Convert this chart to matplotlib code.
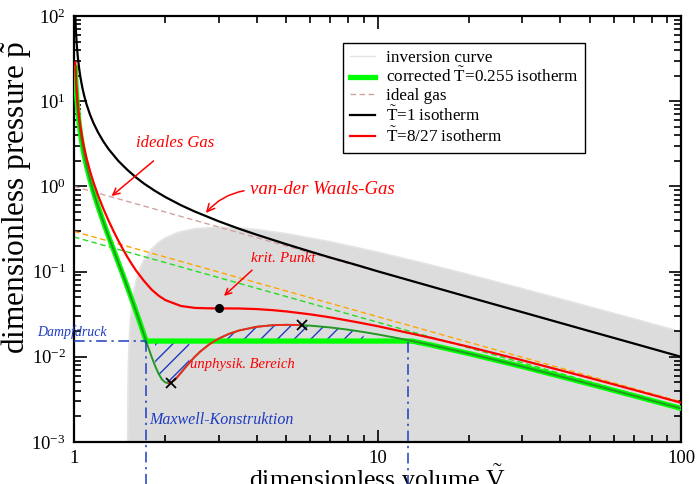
import numpy as np
import matplotlib
matplotlib.use("Agg")
import matplotlib.pyplot as plt
from matplotlib.ticker import LogLocator, NullFormatter, FixedLocator, FixedFormatter

plt.rcParams["font.family"] = "Liberation Serif"
plt.rcParams["mathtext.fontset"] = "custom"
plt.rcParams["mathtext.rm"] = "Liberation Serif"
plt.rcParams["mathtext.it"] = "Liberation Serif:italic"
plt.rcParams["hatch.linewidth"] = 1.0

# values (dimensionless V, p)
V_T1 = [1.004, 1.006, 1.008, 1.01, 1.013, 1.016, 1.02, 1.025, 1.03, 1.04, 1.05,
        1.065, 1.08, 1.1, 1.13, 1.16, 1.2, 1.25, 1.3, 1.4, 1.5, 1.6, 1.7, 1.85,
        2, 2.25, 2.5, 3, 3.5, 4, 5, 6, 7, 8.5, 10, 15, 20, 30, 50, 70, 100]
P_T1 = [249, 166, 124, 99.0, 75.9, 61.5, 49.0, 39.05, 32.4, 24.08, 19.09,
        14.50, 11.64, 9.17, 6.91, 5.51, 4.31, 3.36, 2.74, 1.99, 1.56, 1.276,
        1.08, 0.884, 0.75, 0.602, 0.507, 0.389, 0.318, 0.271, 0.21, 0.172,
        0.146, 0.120, 0.101, 0.067, 0.0501, 0.0334, 0.0200, 0.0143, 0.0100]

V_TC = [1.01, 1.013, 1.016, 1.02, 1.025, 1.03, 1.04, 1.05, 1.065, 1.08, 1.1,
        1.13, 1.16, 1.2, 1.25, 1.3, 1.35, 1.4, 1.45, 1.5, 1.55, 1.6, 1.7, 1.8,
        1.9, 2, 2.25, 2.5, 2.75, 3, 3.5, 4, 4.5, 5, 6, 7, 8.5, 10, 15, 20, 30,
        50, 70, 100]
P_TC = [28.6, 21.8, 17.55, 13.85, 10.9, 8.93, 6.48, 5.02, 3.67, 2.84, 2.137,
        1.497, 1.109, 0.787, 0.545, 0.396, 0.298, 0.2305, 0.1829, 0.1481,
        0.1225, 0.1032, 0.0779, 0.0617, 0.0522, 0.0463, 0.0395, 0.0375, 0.0371,
        0.0370, 0.0369, 0.0363, 0.0353, 0.0341, 0.0315, 0.0290, 0.0256, 0.0229,
        0.0167, 0.0131, 0.0091, 0.00565, 0.00409, 0.00289]

V_T0 = [1.01, 1.013, 1.016, 1.02, 1.025, 1.03, 1.04, 1.05, 1.065, 1.08, 1.1,
        1.13, 1.16, 1.2, 1.25, 1.3, 1.35, 1.4, 1.45, 1.5, 1.55, 1.6, 1.65, 1.7,
        1.75, 1.8, 1.85, 1.9, 1.95, 2.0, 2.05, 2.1, 2.15, 2.2, 2.3, 2.4, 2.5,
        2.6, 2.8, 3.0, 3.25, 3.5, 4.0, 4.5, 5.0, 5.5, 6.0, 7, 8, 9, 10, 12, 13,
        15, 20, 30, 50, 70, 100]
P_T0 = [24.5, 18.64, 14.96, 11.79, 9.24, 7.55, 5.45, 4.193, 3.06, 2.331, 1.724,
        1.188, 0.850, 0.581, 0.380, 0.258, 0.1808, 0.1273, 0.0913, 0.0656,
        0.0473, 0.0344, 0.0250, 0.0183, 0.01347, 0.0101, 0.00782, 0.00632,
        0.00541, 0.0050, 0.00491, 0.00506, 0.00537, 0.00589, 0.00711, 0.00853,
        0.0100, 0.01145, 0.01412, 0.01639, 0.01866, 0.02037, 0.0225, 0.02347,
        0.02375, 0.02361, 0.02322, 0.02209, 0.0208, 0.01953, 0.01833, 0.01624,
        0.01533, 0.01377, 0.01092, 0.00768, 0.0048, 0.00349, 0.00248]

P_VAPOR = 0.0153
V_LIQ, V_GAS = 1.73, 13.0

V_INV = [1.5005, 1.502, 1.505, 1.51, 1.52, 1.535, 1.55, 1.575, 1.6, 1.65, 1.7,
         1.8, 1.9, 2.0, 2.2, 2.5, 3, 3.5, 4, 5, 7, 10, 15, 20, 30, 50, 70, 100]
P_INV = [0.00044, 0.00177, 0.00441, 0.00877, 0.0173, 0.0297, 0.0416, 0.0605,
         0.0781, 0.1102, 0.1384, 0.1852, 0.2216, 0.25, 0.2893, 0.32, 0.3333,
         0.3265, 0.3125, 0.28, 0.2245, 0.17, 0.12, 0.0925, 0.0633, 0.0388,
         0.028, 0.0197]

V_IDEAL = [1, 100]
P_IDEAL = {"1": [1.0, 0.01], "8/27": [0.2963, 0.002963], "0.255": [0.255, 0.00255]}

V_CRIT, P_CRIT = 3.0, 0.037
V_SPIN = [2.08, 5.63]
P_SPIN = [0.00495, 0.0237]

BLUE = "#1e3cc0"

v0 = np.array(V_T0)
p0 = np.array(P_T0)
# corrected isotherm: flat vapour-pressure line between V_LIQ and V_GAS
left = v0 < V_LIQ
right = v0 > V_GAS
V_COR = np.concatenate([v0[left], [V_LIQ, V_GAS], v0[right]])
P_COR = np.concatenate([p0[left], [P_VAPOR, P_VAPOR], p0[right]])

fig = plt.figure(figsize=(7, 4.84), dpi=100)
ax = fig.add_axes([74 / 700, 42 / 484, 607 / 700, 426 / 484])

ax.fill_between(V_INV, P_INV, 1e-4, color="#dcdcdc", lw=0, zorder=1)
ax.plot(V_INV, P_INV, color="#e4e4e4", lw=1, zorder=1.5, label="inversion curve")

ax.plot(V_IDEAL, P_IDEAL["8/27"], color="#ffa500", lw=1, ls=(0, (4, 2.5)), zorder=2)
ax.plot(V_IDEAL, P_IDEAL["0.255"], color="#22dd22", lw=1, ls=(0, (4, 2.5)), zorder=2)

ax.plot(V_COR, P_COR, color="#00ff00", lw=3.8, zorder=3,
        label=r"corrected $\tilde{\mathrm{T}}$=0.255 isotherm")
ax.plot(V_IDEAL, P_IDEAL["1"], color="#d4a0a0", lw=1, ls=(0, (4, 2.5)), zorder=2,
        label="ideal gas")
ax.plot(V_T1, P_T1, color="black", lw=1.6, zorder=4,
        label=r"$\tilde{\mathrm{T}}$=1 isotherm")
ax.plot(V_TC, P_TC, color="#ff0000", lw=1.6, zorder=4,
        label=r"$\tilde{\mathrm{T}}$=8/27 isotherm")
ax.plot(V_T0, P_T0, color="#229922", lw=1.4, zorder=3.5)

# hand-drawn notes
m = (v0 >= 2.05) & (v0 <= 5.5)
ax.plot(v0[m], p0[m], color="#ff2020", lw=1.3, zorder=3.6)
ml = (v0 >= 1.85) & (v0 <= 2.4)
ax.fill_between(v0[ml], p0[ml], P_VAPOR * 0.96, facecolor="none", edgecolor=BLUE,
                hatch="//", lw=0, zorder=2.5)
mr = (v0 >= 3.0) & (v0 <= 9)
ax.fill_between(v0[mr], P_VAPOR * 1.05, p0[mr], facecolor="none", edgecolor=BLUE,
                hatch="//", lw=0, zorder=2.5)

ax.plot(V_SPIN, P_SPIN, "x", color="black", ms=7, mew=1.3, zorder=6)
ax.plot([V_CRIT], [P_CRIT], "o", color="black", ms=5.5, zorder=6)

dd = (0, (7, 3, 1.5, 3))
ax.plot([1, V_LIQ], [P_VAPOR, P_VAPOR], color=BLUE, lw=1.1, ls=dd, zorder=5)
ax.plot([V_LIQ, V_LIQ], [P_VAPOR, 3e-4], color=BLUE, lw=1.1, ls=dd, zorder=5,
        clip_on=False)
ax.plot([V_GAS * 0.97, V_GAS * 0.97], [P_VAPOR * 0.97, 3e-4], color=BLUE, lw=1.1,
        ls=dd, zorder=5, clip_on=False)

note = dict(style="italic", zorder=7)
ax.text(0.985, 0.0196, "Dampfdruck", color=BLUE, fontsize=10, ha="center",
        va="center", **note)
ax.text(3.05, 0.00181, "Maxwell-Konstruktion", color=BLUE, fontsize=11.5,
        ha="center", va="center", **note)
ax.text(3.6, 0.00823, "unphysik. Bereich", color="#ff0000", fontsize=10.5,
        ha="center", va="center", **note)

arrow = dict(arrowstyle="->", color="#ff0000", lw=1.1)
ax.annotate("ideales Gas", xy=(1.33, 0.77), xytext=(2.15, 3.23), color="#ff0000",
            fontsize=12, ha="center", va="center",
            arrowprops=dict(arrow, shrinkA=8, shrinkB=0), **note)
ax.annotate("van-der Waals-Gas", xy=(2.72, 0.488), xytext=(6.56, 0.908),
            color="#ff0000", fontsize=13.5, ha="center", va="center",
            arrowprops=dict(arrow, shrinkA=2, shrinkB=0,
                            connectionstyle="arc3,rad=0.2",
                            relpos=(0, 0.5)), **note)
ax.annotate("krit. Punkt", xy=(3.12, 0.0518), xytext=(4.88, 0.1406),
            color="#ff0000", fontsize=11, ha="center", va="center",
            arrowprops=dict(arrow, shrinkA=2, shrinkB=0, relpos=(0.1, 0)), **note)

ax.set_xscale("log")
ax.set_yscale("log")
ax.set_xlim(1, 100)
ax.set_ylim(1e-3, 1e2)

ax.xaxis.set_major_locator(FixedLocator([1, 10, 100]))
ax.xaxis.set_major_formatter(FixedFormatter(["1", "10", "100"]))
ax.xaxis.set_minor_locator(LogLocator(base=10, subs=np.arange(2, 10)))
ax.xaxis.set_minor_formatter(NullFormatter())
ax.yaxis.set_major_locator(LogLocator(base=10, numticks=10))
ax.yaxis.set_minor_locator(LogLocator(base=10, subs=np.arange(2, 10), numticks=10))
ax.yaxis.set_minor_formatter(NullFormatter())
ax.tick_params(which="both", direction="in", top=True, right=True, width=1.2,
               labelsize=13.5, pad=6)
ax.tick_params(which="major", length=9)
ax.tick_params(which="minor", length=5)
for s in ax.spines.values():
    s.set_linewidth(1.6)

ax.set_xlabel(r"dimensionless volume $\tilde{\mathrm{V}}$", fontsize=18.5)
ax.set_ylabel(r"dimensionless pressure $\tilde{\mathrm{p}}$", fontsize=22.5)
ax.xaxis.set_label_coords(0.5, -0.056)
ax.yaxis.set_label_coords(-0.068, 0.575)

leg = ax.legend(loc="upper right", bbox_to_anchor=(0.842, 0.937),
                borderaxespad=0, fancybox=False, edgecolor="black",
                framealpha=1, fontsize=12.3, handlelength=1.5,
                handletextpad=0.6, labelspacing=0.1, borderpad=0.4)
leg.get_frame().set_linewidth(1.0)
leg.set_zorder(8)

fig.savefig("out.png", dpi=100)
